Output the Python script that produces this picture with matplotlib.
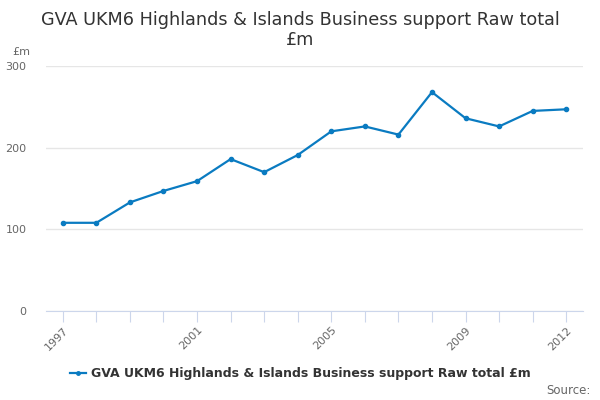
import matplotlib
matplotlib.use("Agg")
import matplotlib.pyplot as plt
from matplotlib.lines import Line2D

# data
years = list(range(1997, 2013))
values = [108, 108, 133, 147, 159, 186, 170, 191, 220, 226, 216, 268, 236, 226, 245, 247]
label_years = [1997, 2001, 2005, 2009, 2012]
series_name = "GVA UKM6 Highlands & Islands Business support Raw total £m"

line_color = "#0a7bc1"

fig = plt.figure(figsize=(6, 4), dpi=100)
ax = fig.add_axes([0.0767, 0.2225, 0.895, 0.6125])

ax.plot(years, values, color=line_color, linewidth=1.6, marker="o", markersize=3)

ax.set_xlim(1996.5, 2012.5)
ax.set_ylim(0, 300)
ax.set_yticks([0, 100, 200, 300])
ax.yaxis.grid(True, color="#e6e6e6", linewidth=1)
ax.set_axisbelow(True)

ax.set_xticks(years, minor=False)
ax.set_xticklabels([str(y) if y in label_years else "" for y in years],
                   rotation=45, ha="right", rotation_mode="anchor")
ax.tick_params(axis="x", length=8, color="#ccd6eb", labelsize=8, labelcolor="#666666", pad=2)
ax.tick_params(axis="y", length=0, labelsize=8, labelcolor="#666666", pad=14)

for side in ["top", "right", "left"]:
    ax.spines[side].set_visible(False)
ax.spines["bottom"].set_color("#ccd6eb")

fig.text(0.5, 0.925, "GVA UKM6 Highlands & Islands Business support Raw total\n£m",
         ha="center", va="center", fontsize=12.7, color="#333333", linespacing=1.1)
fig.text(0.02, 0.87, "£m", fontsize=8, color="#666666", ha="left", va="center")

handle = Line2D([], [], color=line_color, linewidth=1.6, marker="o", markersize=2.5)
fig.legend([handle], [series_name], loc="center", bbox_to_anchor=(0.5, 0.065),
           frameon=False, prop={"size": 9, "weight": "bold"}, handlelength=1.3,
           handletextpad=0.4, labelcolor="#333333")
fig.text(0.985, 0.025, "Source:", fontsize=8.5, color="#666666", ha="right", va="center")

fig.savefig("out.png", dpi=100)
